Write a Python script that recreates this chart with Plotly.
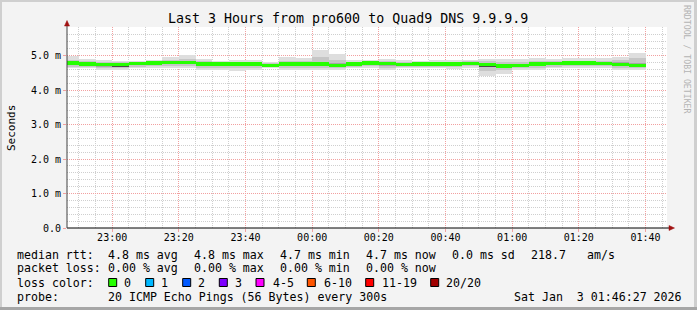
import plotly.graph_objects as go
import pandas as pd

# ---------------- data ----------------
step_end = pd.date_range(end="2026-01-03 01:40:00", periods=35, freq="5min")

median = [4.78, 4.75, 4.73, 4.73, 4.76, 4.78, 4.79, 4.80, 4.75, 4.75, 4.75, 4.75, 4.72, 4.75, 4.75, 4.75, 4.72,
          4.75, 4.78, 4.77, 4.74, 4.75, 4.75, 4.75, 4.77, 4.73, 4.70, 4.71, 4.75, 4.77, 4.78, 4.78, 4.77, 4.74, 4.72]
outer_hi = [5.00, 4.90, 4.87, 4.85, 4.85, 4.87, 4.95, 5.01, 4.90, 4.85, 4.87, 4.87, 4.80, 4.95, 4.92, 5.17, 5.04,
            4.88, 4.88, 4.90, 4.86, 4.83, 4.86, 4.86, 4.88, 4.91, 4.90, 4.90, 4.93, 4.90, 4.93, 4.93, 4.93, 4.97, 5.07]
outer_lo = [4.64, 4.64, 4.59, 4.59, 4.64, 4.64, 4.64, 4.64, 4.59, 4.57, 4.56, 4.57, 4.64, 4.59, 4.59, 4.59, 4.59,
            4.64, 4.64, 4.57, 4.64, 4.64, 4.64, 4.62, 4.64, 4.40, 4.47, 4.59, 4.59, 4.64, 4.64, 4.64, 4.64, 4.59, 4.57]
mid_hi = [4.88, 4.83, 4.81, 4.80, 4.82, 4.84, 4.88, 4.90, 4.83, 4.81, 4.82, 4.82, 4.77, 4.85, 4.84, 4.95, 4.88,
          4.82, 4.84, 4.85, 4.81, 4.80, 4.81, 4.81, 4.83, 4.83, 4.82, 4.82, 4.84, 4.84, 4.85, 4.85, 4.84, 4.88, 4.93]
mid_lo = [4.68, 4.67, 4.64, 4.64, 4.68, 4.69, 4.69, 4.70, 4.65, 4.64, 4.63, 4.64, 4.67, 4.65, 4.65, 4.65, 4.64,
          4.68, 4.69, 4.64, 4.67, 4.68, 4.68, 4.67, 4.69, 4.55, 4.58, 4.64, 4.65, 4.68, 4.69, 4.69, 4.69, 4.65, 4.63]
inner_hi = [4.82, 4.79, 4.77, 4.77, 4.79, 4.81, 4.83, 4.84, 4.79, 4.78, 4.79, 4.79, 4.75, 4.79, 4.79, 4.81, 4.77,
            4.79, 4.81, 4.81, 4.78, 4.78, 4.78, 4.78, 4.80, 4.78, 4.75, 4.76, 4.79, 4.80, 4.81, 4.81, 4.80, 4.80, 4.79]
inner_lo = [4.72, 4.70, 4.68, 4.68, 4.72, 4.73, 4.74, 4.75, 4.70, 4.69, 4.69, 4.70, 4.69, 4.70, 4.70, 4.70, 4.67,
            4.71, 4.73, 4.71, 4.70, 4.71, 4.71, 4.71, 4.73, 4.66, 4.64, 4.67, 4.70, 4.73, 4.73, 4.73, 4.73, 4.69, 4.67]
core_hi = [4.80, 4.77, 4.75, 4.75, 4.78, 4.80, 4.81, 4.82, 4.77, 4.77, 4.78, 4.77, 4.74, 4.77, 4.77, 4.77, 4.74,
           4.77, 4.80, 4.80, 4.78, 4.79, 4.77, 4.77, 4.79, 4.75, 4.72, 4.73, 4.77, 4.79, 4.80, 4.80, 4.80, 4.76, 4.74]
core_lo = [4.74, 4.71, 4.69, 4.68, 4.73, 4.74, 4.75, 4.76, 4.70, 4.70, 4.70, 4.71, 4.68, 4.70, 4.70, 4.70, 4.67,
           4.71, 4.74, 4.73, 4.69, 4.70, 4.71, 4.71, 4.73, 4.68, 4.65, 4.66, 4.71, 4.73, 4.74, 4.74, 4.73, 4.69, 4.67]

y_tickvals = [0, 1, 2, 3, 4, 5]
y_ticktext = ["0.0", "1.0 m", "2.0 m", "3.0 m", "4.0 m", "5.0 m"]

title_text = "Last 3 Hours from pro600 to Quad9 DNS 9.9.9.9"
rtt_label = "median rtt:"
rtt_items = ["4.8 ms avg", "4.8 ms max", "4.7 ms min", "4.7 ms now", "0.0 ms sd", "218.7", "am/s"]
loss_label = "packet loss:"
loss_items = ["0.00 % avg", "0.00 % max", "0.00 % min", "0.00 % now"]
lc_label = "loss color:"
lc_names = ["0", "1", "2", "3", "4-5", "6-10", "11-19", "20/20"]
lc_colors = ["#26ff00", "#00b8ff", "#0059ff", "#7e00ff", "#ff00ff", "#ff5500", "#ff0000", "#a10000"]
probe_label = "probe:"
probe_text = "20 ICMP Echo Pings (56 Bytes) every 300s"
date_text = "Sat Jan\u00a0\u00a03 01:46:27 2026"

# ---------------- layout constants ----------------
W, H = 697, 310
L, R, T, B = 67, 30, 27, 82
PW, PH = W - L - R, H - T - B
MONO = "DejaVu Sans Mono"
STEP_MS = 300000
MED_HALF = 0.048


def px(x):
    return (x - L) / PW


def py(y):
    return (H - B - y) / PH


fig = go.Figure()

layers = [
    (outer_lo, outer_hi, "#dedede"),
    (mid_lo, mid_hi, "#c6c6c6"),
    (inner_lo, inner_hi, "#a6a6a6"),
    (core_lo, core_hi, "#4a4a4a"),
]
for lo, hi, col in layers:
    fig.add_trace(go.Bar(
        x=step_end, base=lo, y=[h - l for h, l in zip(hi, lo)],
        width=STEP_MS, offset=-STEP_MS,
        marker=dict(color=col, line=dict(width=0)),
        hoverinfo="skip", showlegend=False))

fig.add_trace(go.Bar(
    x=step_end, base=[m - MED_HALF for m in median], y=[2 * MED_HALF] * len(median),
    width=STEP_MS, offset=-STEP_MS,
    marker=dict(color=lc_colors[0], line=dict(width=0)),
    hoverinfo="skip", showlegend=False))

grid_minor = "#cfcfcf"
grid_major = "#f2a0a0"

fig.update_layout(
    width=W, height=H,
    margin=dict(l=L, r=R, t=T, b=B, pad=0),
    paper_bgcolor="#f3f3f3", plot_bgcolor="#ffffff",
    barmode="overlay", bargap=0,
    xaxis=dict(
        type="date",
        range=["2026-01-02 22:46:27", "2026-01-03 01:46:27"],
        tickformat="%H:%M", dtick=1200000, tick0="2026-01-02 23:00:00",
        showgrid=True, gridcolor=grid_major, griddash="1px,1px", gridwidth=1,
        minor=dict(dtick=300000, tick0="2026-01-02 23:00:00", showgrid=True,
                   gridcolor=grid_minor, griddash="1px,1px", gridwidth=1),
        ticks="outside", ticklen=3, tickcolor=grid_major, ticklabelstandoff=-3,
        tickfont=dict(family=MONO, size=10, color="#000000"),
        showline=False, zeroline=False, fixedrange=True,
    ),
    yaxis=dict(
        range=[0, PH / 34.5],
        tickmode="array", tickvals=y_tickvals, ticktext=y_ticktext,
        showgrid=True, gridcolor=grid_major, griddash="1px,1px", gridwidth=1,
        minor=dict(dtick=0.2, tick0=0, showgrid=True,
                   gridcolor=grid_minor, griddash="1px,1px", gridwidth=1),
        ticks="outside", ticklen=3, tickcolor=grid_major,
        tickfont=dict(family=MONO, size=10, color="#000000"),
        showline=False, zeroline=False, fixedrange=True,
    ),
    showlegend=False,
)

shapes = []
# axes lines
shapes.append(dict(type="line", xref="paper", yref="paper", x0=px(67), x1=px(670), y0=py(228), y1=py(228),
                   line=dict(color="#000000", width=1)))
shapes.append(dict(type="line", xref="paper", yref="paper", x0=px(67), x1=px(67), y0=py(228), y1=py(23),
                   line=dict(color="#404040", width=1)))
# arrows
shapes.append(dict(type="path", xref="paper", yref="paper",
                   path=f"M {px(669)},{py(225.5)} L {px(674.5)},{py(228)} L {px(669)},{py(230.5)} Z",
                   fillcolor="#a01010", line=dict(color="#a01010", width=0.5)))
shapes.append(dict(type="path", xref="paper", yref="paper",
                   path=f"M {px(64.5)},{py(26)} L {px(67)},{py(20.5)} L {px(69.5)},{py(26)} Z",
                   fillcolor="#a01010", line=dict(color="#a01010", width=0.5)))
# frame
shapes.append(dict(type="rect", xref="paper", yref="paper", x0=px(0), x1=px(2), y0=py(0), y1=py(310),
                   fillcolor="#cfcfcf", line=dict(width=0)))
shapes.append(dict(type="rect", xref="paper", yref="paper", x0=px(0), x1=px(697), y0=py(0), y1=py(2),
                   fillcolor="#cfcfcf", line=dict(width=0)))
shapes.append(dict(type="rect", xref="paper", yref="paper", x0=px(694), x1=px(697), y0=py(0), y1=py(310),
                   fillcolor="#cfcfcf", line=dict(width=0)))
shapes.append(dict(type="rect", xref="paper", yref="paper", x0=px(0), x1=px(697), y0=py(307), y1=py(310),
                   fillcolor="#a6a6a6", line=dict(width=0)))

annotations = []


def txt(x, y, s, size=11.6, color="#000000", anchor="left", angle=0):
    annotations.append(dict(xref="paper", yref="paper", x=px(x), y=py(y), text=s, showarrow=False,
                            xanchor=anchor, yanchor="middle", textangle=angle,
                            font=dict(family=MONO, size=size, color=color), borderpad=0))


txt(347.5, 18.5, title_text, size=13.3, anchor="center")
txt(11, 128, "Seconds", size=11, anchor="center", angle=-90)
txt(687, 59, "RRDTOOL / TOBI OETIKER", size=8.2, color="#b4b4b4", anchor="center", angle=90)

COLS1 = [107.3, 193.3, 279.3, 365, 451, 530, 586]
txt(16, 254.5, rtt_label)
for x, s in zip(COLS1, rtt_items):
    txt(x, 254.5, s)
txt(16, 268, loss_label)
for x, s in zip(COLS1, loss_items):
    txt(x, 268, s)
txt(16, 282.5, lc_label)
BOX_X = [108.7, 145.7, 182.7, 219.3, 256, 307.3, 365.7, 430.7]
LBL_X = [123.3, 160, 197, 234, 272, 323, 380.7, 445.3]
for bx, lx, name, col in zip(BOX_X, LBL_X, lc_names, lc_colors):
    shapes.append(dict(type="rect", xref="paper", yref="paper", x0=px(bx), x1=px(bx + 8),
                       y0=py(278.5), y1=py(286.5), fillcolor=col, line=dict(color="#000000", width=1)))
    txt(lx, 282.5, name)
txt(16, 296.5, probe_label)
txt(107.3, 296.5, probe_text)
txt(513.3, 296.5, date_text)

fig.update_layout(shapes=shapes, annotations=annotations)
fig.write_html("out.html")
